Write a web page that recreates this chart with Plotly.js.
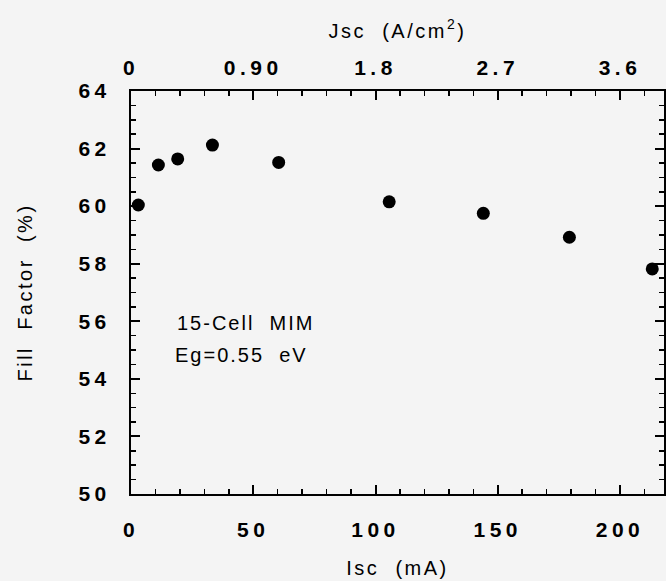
<!DOCTYPE html>
<html>
<head>
<meta charset="utf-8">
<script src="https://cdn.plot.ly/plotly-3.0.1.min.js"></script>
<style>
html, body { margin: 0; padding: 0; background: #f4f4f4; }
#chart { width: 666px; height: 581px; }
.xtick text, .ytick text, .x2tick text { letter-spacing: 4.5px; }
.xtitle, .ytitle, .x2title { letter-spacing: 2.5px; }
.annotation-text { letter-spacing: 2px; }
</style>
</head>
<body>
<div id="chart"></div>
<script>
// Data
var iscValues = [3.0, 11.2, 19.1, 33.3, 60.4, 105.6, 144.1, 179.3, 213.2];   // Isc (mA)
var fillFactor = [60.04, 61.43, 61.64, 62.12, 61.52, 60.15, 59.75, 58.92, 57.82]; // Fill Factor (%)
var jscTickVals = [0, 0.9, 1.8, 2.7, 3.6];
var jscTickText = ['0', '0.90', '1.8', '2.7', '3.6'];
var annotationLines = ['15-Cell  MIM', 'Eg=0.55  eV'];

var tickFont = { family: 'Liberation Sans, Arial, sans-serif', size: 21, color: '#000', weight: 'bold' };
var titleFont = { family: 'Liberation Sans, Arial, sans-serif', size: 20, color: '#000' };

var traces = [
  {
    x: iscValues, y: fillFactor, mode: 'markers', type: 'scatter',
    marker: { color: '#000', size: 13 },
    xaxis: 'x', yaxis: 'y', showlegend: false, hoverinfo: 'x+y'
  },
  {
    x: [], y: [], mode: 'markers', type: 'scatter',
    xaxis: 'x2', yaxis: 'y', showlegend: false, hoverinfo: 'skip'
  }
];

var layout = {
  width: 666, height: 581,
  paper_bgcolor: '#f4f4f4', plot_bgcolor: '#f4f4f4',
  margin: { l: 131, r: 2, t: 91, b: 87 },
  showlegend: false,
  xaxis: {
    range: [0, 218], dtick: 50, tick0: 0,
    ticks: 'inside', ticklen: 9, tickwidth: 2, tickcolor: '#000',
    minor: { dtick: 10, ticks: 'inside', ticklen: 5, tickwidth: 1.5, tickcolor: '#000' },
    showline: true, linewidth: 2, linecolor: '#000', mirror: false,
    showgrid: false, zeroline: false,
    tickfont: tickFont, ticklabelstandoff: 16,
    title: { text: 'Isc  (mA)', font: titleFont, standoff: 21 }
  },
  xaxis2: {
    overlaying: 'x', side: 'top', anchor: 'y',
    range: [0, 3.924],
    tickmode: 'array', tickvals: jscTickVals, ticktext: jscTickText,
    ticks: 'inside', ticklen: 9, tickwidth: 2, tickcolor: '#000',
    minor: { dtick: 0.18, tick0: 0, ticks: 'inside', ticklen: 5, tickwidth: 1.5, tickcolor: '#000' },
    showline: true, linewidth: 2, linecolor: '#000',
    showgrid: false, zeroline: false,
    tickfont: tickFont, ticklabelstandoff: 6,
    title: { text: 'Jsc  (A/cm<sup>2</sup>)', font: titleFont, standoff: 12 }
  },
  yaxis: {
    range: [50, 64], dtick: 2, tick0: 50,
    ticks: 'inside', ticklen: 9, tickwidth: 2, tickcolor: '#000',
    minor: { dtick: 0.5, ticks: 'inside', ticklen: 5, tickwidth: 1.5, tickcolor: '#000' },
    showline: true, linewidth: 2, linecolor: '#000', mirror: 'ticks',
    showgrid: false, zeroline: false,
    tickfont: tickFont, ticklabelstandoff: 14,
    title: { text: 'Fill  Factor  (%)', font: titleFont, standoff: 40 }
  },
  annotations: [
    { x: 18, y: 55.94, xref: 'x', yref: 'y', xanchor: 'left', yanchor: 'middle',
      text: annotationLines[0], showarrow: false, font: titleFont },
    { x: 17.3, y: 54.83, xref: 'x', yref: 'y', xanchor: 'left', yanchor: 'middle',
      text: annotationLines[1], showarrow: false, font: titleFont }
  ]
};

Plotly.newPlot('chart', traces, layout, { displayModeBar: false, staticPlot: true });
</script>
</body>
</html>
